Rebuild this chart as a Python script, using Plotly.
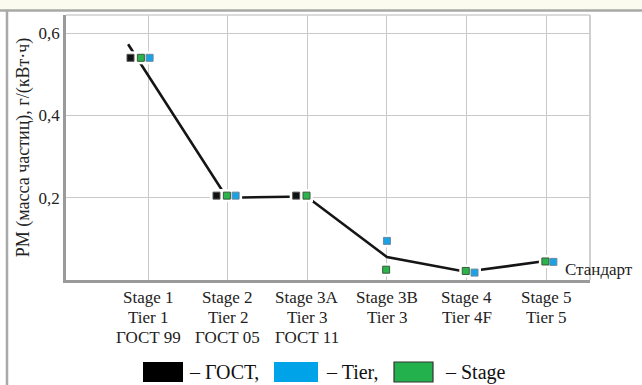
import plotly.graph_objects as go

# ---- data ----
stage_labels = ["Stage 1", "Stage 2", "Stage 3A", "Stage 3B", "Stage 4", "Stage 5"]
tier_labels = ["Tier 1", "Tier 2", "Tier 3", "Tier 3", "Tier 4F", "Tier 5"]
gost_labels = ["ГОСТ 99", "ГОСТ 05", "ГОСТ 11", "", "", ""]

gost_pm = [0.54, 0.205, 0.205, None, None, None]
stage_pm = [0.54, 0.205, 0.205, 0.025, 0.022, 0.045]
tier_pm = [0.54, 0.205, None, 0.095, 0.018, 0.044]
trend_pm = [0.573, 0.2, 0.203, 0.056, 0.02, 0.046]

y_ticks = [0.2, 0.4, 0.6]

# ---- styling / layout helpers ----
FONT = "Liberation Serif"
C_BLACK = "#111111"
C_BLUE = "#1aa2e4"
C_GREEN = "#2bb34c"

idx = list(range(len(stage_labels)))
dodge_gost = -0.14
dodge_stage = -0.01
dodge_tier = [0.10, 0.10, 0.10, 0.0, 0.10, 0.09]
trend_dodge = [-0.25, -0.01, -0.01, 0.0, -0.01, -0.01]
group_shift = [-0.08, 0, 0, 0, 0, 0]

xg = [i + dodge_gost + group_shift[i] for i in idx]
xs = [i + dodge_stage + group_shift[i] for i in idx]
xt = [i + dodge_tier[i] + group_shift[i] for i in idx]
xl = [i + trend_dodge[i] for i in idx]

fig = go.Figure()

# trend line
fig.add_trace(go.Scatter(x=xl, y=trend_pm, mode="lines",
                         line=dict(color="#151515", width=2.6),
                         showlegend=False, hoverinfo="skip"))

# white halos behind markers
allx = xg + xs + xt
ally = gost_pm + stage_pm + tier_pm
fig.add_trace(go.Scatter(x=allx, y=ally, mode="markers",
                         marker=dict(symbol="square", size=13, color="white",
                                     line=dict(width=0)),
                         showlegend=False, hoverinfo="skip"))

for xx, yy, col, edge in [(xg, gost_pm, C_BLACK, "#555555"),
                          (xs, stage_pm, C_GREEN, "#3a5a3a"),
                          (xt, tier_pm, C_BLUE, "#6a8aa0")]:
    fig.add_trace(go.Scatter(x=xx, y=yy, mode="markers",
                             marker=dict(symbol="square", size=7, color=col,
                                         line=dict(width=1, color=edge)),
                             showlegend=False))

# ---- geometry of the frame ----
L, R, T, B = 66, 52, 15, 105
W, H = 642, 385
pw, ph = W - L - R, H - T - B

def px(x):
    return (x - L) / pw

def py(y):
    return (H - B - y) / ph

shapes = [
    dict(type="rect", xref="paper", yref="paper", x0=px(0), x1=px(W), y0=py(10), y1=py(0),
         fillcolor="#fbfbef", line=dict(width=0), layer="below"),
    dict(type="line", xref="paper", yref="paper", x0=px(0), x1=px(W), y0=py(10.5), y1=py(10.5),
         line=dict(color="#a9a9a9", width=2.5)),
    dict(type="line", xref="paper", yref="paper", x0=px(7), x1=px(7), y0=py(10.5), y1=py(H),
         line=dict(color="#a9a9a9", width=2.5)),
    dict(type="line", xref="paper", yref="paper", x0=0, x1=1, y0=1, y1=1,
         line=dict(color="#cfcfcf", width=1.5)),
    dict(type="line", xref="paper", yref="paper", x0=1, x1=1, y0=0, y1=1,
         line=dict(color="#cfcfcf", width=2)),
]

annotations = []

# category labels, one row per naming scheme
for row_labels, row_y in [(stage_labels, 297), (tier_labels, 317), (gost_labels, 337)]:
    for i, lab in zip(idx, row_labels):
        if lab:
            annotations.append(dict(text=lab, xref="x", yref="paper", x=i, y=py(row_y),
                                    xanchor="center", yanchor="middle", showarrow=False,
                                    font=dict(family=FONT, size=17, color="#222222")))

# legend swatches
legend_items = [("– ГОСТ,", "#000000", None, 143, 183, 187),
                ("– Tier,", "#00a3e8", None, 274, 318, 324),
                ("– Stage", "#22b14c", "#333333", 394, 433, 443)]
for text, col, edge, x0, x1, tx in legend_items:
    shapes.append(dict(type="rect", xref="paper", yref="paper",
                       x0=px(x0), x1=px(x1), y0=py(382), y1=py(362),
                       fillcolor=col,
                       line=dict(width=1.2 if edge else 0, color=edge or col)))
    annotations.append(dict(text=text, xref="paper", yref="paper", x=px(tx), y=py(372),
                            xanchor="left", yanchor="middle", showarrow=False,
                            font=dict(family=FONT, size=20, color="#111111")))

annotations.append(dict(text="Стандарт", xref="paper", yref="paper", x=px(563), y=py(269),
                        xanchor="left", yanchor="middle", showarrow=False,
                        font=dict(family=FONT, size=17, color="#222222")))

fig.update_layout(
    width=W, height=H,
    margin=dict(l=L, r=R, t=T, b=B, autoexpand=False),
    paper_bgcolor="white", plot_bgcolor="white",
    separators=", ",
    font=dict(family=FONT, size=17, color="#222222"),
    shapes=shapes, annotations=annotations,
    showlegend=False,
)
fig.update_xaxes(
    range=[-1.03, 5.55], tickvals=idx, showticklabels=False,
    showgrid=True, gridcolor="#c9c9c9", gridwidth=1,
    showline=True, linecolor="#9a9a9a", linewidth=2.5,
    ticks="", zeroline=False,
)
fig.update_yaxes(
    range=[0, 0.644], tickvals=y_ticks, tickformat=".1f",
    showgrid=True, gridcolor="#c9c9c9", gridwidth=1,
    showline=True, linecolor="#9a9a9a", linewidth=2.5,
    ticks="", zeroline=False, tickfont=dict(family=FONT, size=17, color="#222222"),
    title=dict(text="PM (масса частиц), г/(кВт·ч)",
               font=dict(family=FONT, size=18, color="#222222"), standoff=5),
)

fig.write_html("out.html", config={"displayModeBar": False},
               post_script="document.body.style.margin='0';")
